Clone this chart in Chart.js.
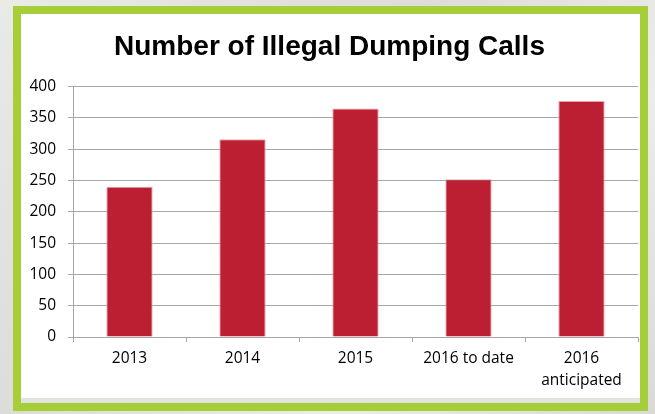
<!DOCTYPE html>
<html>
<head>
<meta charset="utf-8">
<script src="https://cdn.jsdelivr.net/npm/chart.js@4/dist/chart.umd.min.js"></script>
<style>
  html, body { margin: 0; padding: 0; }
  body {
    width: 655px; height: 414px; overflow: hidden; position: relative;
    background: linear-gradient(135deg, #e9ebe6 0%, #dcdcd8 40%, #ecece9 70%, #d9dad6 100%);
  }
  #frame {
    position: absolute; left: 13px; top: 6px; width: 619px; height: 389px;
    border: 8px solid #a6ce39; background: #fff;
  }
  #gap {
    position: absolute; left: 21px; top: 398px; width: 619px; height: 5px;
    background: #e2e3df;
  }
  #wrap { position: absolute; left: 21px; top: 14px; width: 618px; height: 384px; }
</style>
</head>
<body>
<div id="frame"></div>
<div id="gap"></div>
<div id="wrap"><canvas id="barChart"></canvas></div>
<script>
var categories = ['2013', '2014', '2015', '2016 to date', ['2016', 'anticipated']]
var calls      = [240, 316, 365, 252, 377]
var yTicks     = [0, 50, 100, 150, 200, 250, 300, 350, 400]

var gridColor = '#a6a6a6'
var labelFont = { family: "'Open Sans', 'Liberation Sans', sans-serif", size: 15.5 }

var barChartData = {
  labels  : categories,
  datasets: [
    {
      label          : 'Calls',
      backgroundColor: '#bc1f32',
      borderColor    : '#e8a3ab',
      borderWidth    : 1,
      borderSkipped  : 'bottom',
      barPercentage  : 0.41,
      categoryPercentage: 1,
      data           : calls
    }
  ]
}

var barChartOptions = {
  responsive         : true,
  maintainAspectRatio: false,
  animation          : false,
  layout             : { padding: { left: 0, right: 1, top: 0, bottom: 0 } },
  plugins: {
    legend : { display: false },
    tooltip: { enabled: false },
    title  : {
      display: true,
      text   : 'Number of Illegal Dumping Calls',
      color  : '#000',
      font   : { family: "'Liberation Sans Narrow', 'Liberation Sans', sans-serif", size: 28, weight: 'bold', lineHeight: 1.2 },
      padding: { top: 16, bottom: 23 }
    }
  },
  scales: {
    x: {
      grid  : { display: true, drawOnChartArea: false, color: gridColor, tickLength: 5 },
      border: { color: gridColor },
      ticks : { color: '#000', font: Object.assign({ lineHeight: 1.45 }, labelFont), padding: 5, maxRotation: 0 },
      afterFit: function (s) { s.height = 61 }
    },
    y: {
      min: 0,
      max: 400,
      afterBuildTicks: function (s) { s.ticks = yTicks.map(function (v) { return { value: v } }) },
      grid  : { color: gridColor, tickLength: 5 },
      border: { color: gridColor },
      ticks : { color: '#000', font: labelFont, padding: 12 },
      afterFit: function (s) { s.width = 52 }
    }
  }
}

new Chart(document.getElementById('barChart').getContext('2d'), {
  type: 'bar',
  data: barChartData,
  options: barChartOptions
})
</script>
</body>
</html>
